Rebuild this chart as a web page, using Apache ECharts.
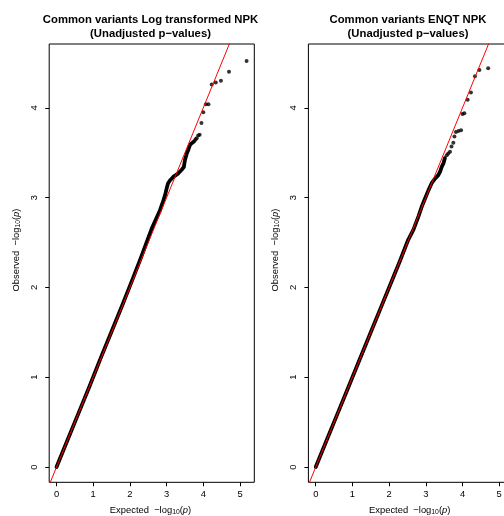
<!DOCTYPE html>
<html>
<head>
<meta charset="utf-8">
<script src="https://cdn.jsdelivr.net/npm/echarts@6/dist/echarts.min.js"></script>
<style>
html,body{margin:0;padding:0;background:#fff;}
#chart{width:504px;height:516px;}
</style>
</head>
<body>
<div id="chart"></div>
<script>
// ---- data (expected -log10 p, observed -log10 p) ----
const xTicks = [0, 1, 2, 3, 4, 5];
const yTicks = [0, 1, 2, 3, 4];
const titles = ["Common variants Log transformed NPK\n(Unadjusted p\u2212values)",
                "Common variants ENQT NPK\n(Unadjusted p\u2212values)"];

const leftBand = [[0,0],[0.3,0.3],[0.6,0.6],[0.9,0.9],[1.2,1.21],[1.5,1.51],[1.8,1.81],[2.1,2.12],
  [2.3,2.33],[2.5,2.55],[2.6,2.66],[2.7,2.75],[2.82,2.86],[2.89,2.94],[2.96,3.03],[3.0,3.10],
  [3.04,3.16],[3.09,3.19],[3.18,3.23],[3.32,3.27],[3.41,3.31],[3.47,3.34],[3.50,3.42],
  [3.55,3.49],[3.59,3.53],[3.64,3.59]];
const leftTail = [[3.67,3.60],[3.70,3.61],[3.73,3.62],[3.76,3.63],[3.79,3.65],[3.82,3.66],
  [3.86,3.69],[3.90,3.70],[3.95,3.83],[4.00,3.95],[4.07,4.04],[4.14,4.04],[4.23,4.26],
  [4.34,4.28],[4.48,4.30],[4.70,4.40],[5.18,4.52]];

const rightBand = [[0,0],[0.3,0.3],[0.6,0.6],[0.9,0.9],[1.2,1.2],[1.5,1.5],[1.8,1.8],[2.1,2.1],
  [2.3,2.3],[2.52,2.53],[2.66,2.64],[2.80,2.79],[2.89,2.90],[2.98,2.99],[3.07,3.08],[3.16,3.16],
  [3.25,3.21],[3.34,3.25],[3.39,3.29],[3.43,3.34],[3.48,3.38],[3.52,3.44]];
const rightTail = [[3.57,3.47],[3.61,3.49],[3.66,3.51],[3.70,3.57],[3.75,3.61],[3.78,3.68],
  [3.82,3.73],[3.89,3.74],[3.96,3.75],[4.00,3.93],[4.05,3.94],[4.14,4.09],[4.23,4.17],
  [4.34,4.35],[4.46,4.42],[4.70,4.44]];

const refLine = [[-0.2,-0.2],[5.39,5.39]];

// ---- chart ----
const FONT = "'Liberation Sans', Arial, Helvetica, sans-serif";
const chart = echarts.init(document.getElementById('chart'), null, {renderer: 'canvas'});

const gridLefts = [49.2, 308.4];
function mkGrid(l){ return {left:l, top:44, width:205.1, height:438.3, show:true,
  borderColor:'#000', borderWidth:1, backgroundColor:'transparent', containLabel:false, outerBoundsMode:'none'}; }
function mkX(i){ return {gridIndex:i, type:'value', min:-0.2, max:5.39, position:'bottom',
  axisLine:{show:false, onZero:false}, splitLine:{show:false},
  axisTick:{show:true, inside:false, length:4, customValues:xTicks, lineStyle:{color:'#000', width:1}},
  axisLabel:{customValues:xTicks, fontSize:9.4, color:'#000', margin:8, fontFamily:FONT}}; }
function mkY(i){ return {gridIndex:i, type:'value', min:-0.17, max:4.71, position:'left',
  axisLine:{show:false, onZero:false}, splitLine:{show:false},
  axisTick:{show:true, inside:false, length:4, customValues:yTicks, lineStyle:{color:'#000', width:1}},
  axisLabel:{customValues:yTicks, fontSize:9.4, color:'#000', margin:10, rotate:90, fontFamily:FONT}}; }

function bandSeries(i, data){ return {type:'line', xAxisIndex:i, yAxisIndex:i, data:data, showSymbol:false,
  symbol:'none', lineStyle:{color:'#000', width:3.8, cap:'round', join:'round'}, silent:true, z:2}; }
function tailSeries(i, data){ return {type:'scatter', xAxisIndex:i, yAxisIndex:i, data:data,
  symbol:'circle', symbolSize:4, itemStyle:{color:'#000'}, silent:true, z:2}; }
function refSeries(i){ return {type:'line', xAxisIndex:i, yAxisIndex:i, data:refLine, showSymbol:false,
  symbol:'none', clip:true, lineStyle:{color:'#ff0000', width:1}, silent:true, z:5}; }

const rich = {
  n:{fontSize:9.4, fontFamily:FONT, color:'#000'},
  s:{fontSize:6.8, fontFamily:FONT, color:'#000', padding:[5,0,0,0]},
  i:{fontSize:9.4, fontFamily:FONT, color:'#000', fontStyle:'italic'}
};
function axisTitle(word){ return '{n|' + word + '  \u2212log}{s|10}{n|(}{i|p}{n|)}'; }

const graphics = [];
const titleX = [150.5, 408];
const xNameX = [150.5, 409.7];
const yNameX = [16, 275];
for (let k = 0; k < 2; k++) {
  const lines = titles[k].split('\n');
  graphics.push({type:'text', x:titleX[k], y:20, silent:true,
    style:{text:lines[0], font:'bold 11.3px ' + FONT, fill:'#000', align:'center', verticalAlign:'middle'}});
  graphics.push({type:'text', x:titleX[k], y:34, silent:true,
    style:{text:lines[1], font:'bold 11.3px ' + FONT, fill:'#000', align:'center', verticalAlign:'middle'}});
  graphics.push({type:'text', x:xNameX[k], y:510, silent:true,
    style:{text:axisTitle('Expected'), rich:rich, align:'center', verticalAlign:'middle'}});
  graphics.push({type:'text', x:yNameX[k], y:250, rotation:Math.PI/2, silent:true,
    style:{text:axisTitle('Observed'), rich:rich, align:'center', verticalAlign:'middle'}});
}

chart.setOption({
  animation:false,
  backgroundColor:'#fff',
  grid:[mkGrid(gridLefts[0]), mkGrid(gridLefts[1])],
  xAxis:[mkX(0), mkX(1)],
  yAxis:[mkY(0), mkY(1)],
  series:[bandSeries(0, leftBand), tailSeries(0, leftTail), refSeries(0),
          bandSeries(1, rightBand), tailSeries(1, rightTail), refSeries(1)],
  graphic:graphics
});
</script>
</body>
</html>
